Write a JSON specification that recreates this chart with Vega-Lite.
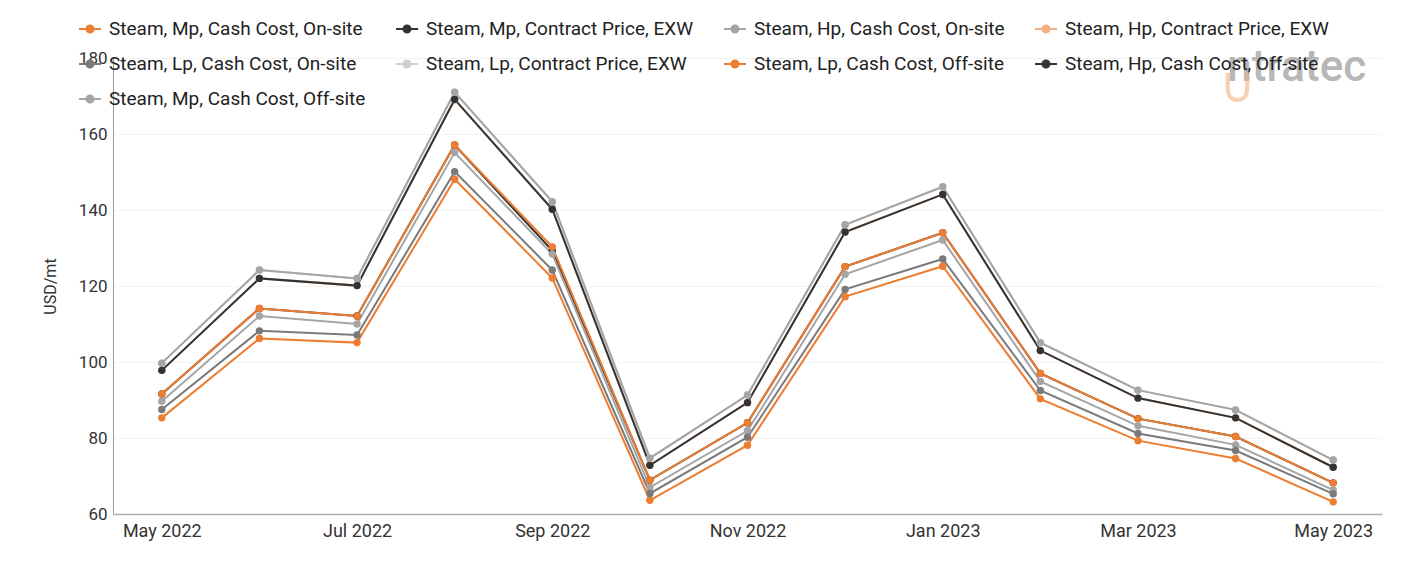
{
  "$schema": "https://vega.github.io/schema/vega-lite/v6.json",
  "width": 1269,
  "height": 456,
  "autosize": {"type": "none"},
  "padding": {"left": 113, "top": 58, "right": 19, "bottom": 47},
  "background": "#ffffff",
  "config": {
    "font": "Roboto",
    "view": {"stroke": null},
    "axis": {"labelFont": "Roboto", "titleFont": "Roboto", "labelColor": "#333333", "titleColor": "#333333"}
  },
  "data": {
    "values": [
      {"month": "May 2022", "series": "Steam, Mp, Cash Cost, On-site", "usd": 85.3},
      {"month": "Jun 2022", "series": "Steam, Mp, Cash Cost, On-site", "usd": 106.2},
      {"month": "Jul 2022", "series": "Steam, Mp, Cash Cost, On-site", "usd": 105.1},
      {"month": "Aug 2022", "series": "Steam, Mp, Cash Cost, On-site", "usd": 148.1},
      {"month": "Sep 2022", "series": "Steam, Mp, Cash Cost, On-site", "usd": 122.1},
      {"month": "Oct 2022", "series": "Steam, Mp, Cash Cost, On-site", "usd": 63.6},
      {"month": "Nov 2022", "series": "Steam, Mp, Cash Cost, On-site", "usd": 78.1},
      {"month": "Dec 2022", "series": "Steam, Mp, Cash Cost, On-site", "usd": 117.2},
      {"month": "Jan 2023", "series": "Steam, Mp, Cash Cost, On-site", "usd": 125.2},
      {"month": "Feb 2023", "series": "Steam, Mp, Cash Cost, On-site", "usd": 90.3},
      {"month": "Mar 2023", "series": "Steam, Mp, Cash Cost, On-site", "usd": 79.3},
      {"month": "Apr 2023", "series": "Steam, Mp, Cash Cost, On-site", "usd": 74.6},
      {"month": "May 2023", "series": "Steam, Mp, Cash Cost, On-site", "usd": 63.2},

      {"month": "May 2022", "series": "Steam, Mp, Contract Price, EXW", "usd": 91.6},
      {"month": "Jun 2022", "series": "Steam, Mp, Contract Price, EXW", "usd": 114.1},
      {"month": "Jul 2022", "series": "Steam, Mp, Contract Price, EXW", "usd": 112.1},
      {"month": "Aug 2022", "series": "Steam, Mp, Contract Price, EXW", "usd": 157.1},
      {"month": "Sep 2022", "series": "Steam, Mp, Contract Price, EXW", "usd": 129.3},
      {"month": "Oct 2022", "series": "Steam, Mp, Contract Price, EXW", "usd": 68.9},
      {"month": "Nov 2022", "series": "Steam, Mp, Contract Price, EXW", "usd": 84.0},
      {"month": "Dec 2022", "series": "Steam, Mp, Contract Price, EXW", "usd": 125.1},
      {"month": "Jan 2023", "series": "Steam, Mp, Contract Price, EXW", "usd": 134.0},
      {"month": "Feb 2023", "series": "Steam, Mp, Contract Price, EXW", "usd": 97.0},
      {"month": "Mar 2023", "series": "Steam, Mp, Contract Price, EXW", "usd": 85.1},
      {"month": "Apr 2023", "series": "Steam, Mp, Contract Price, EXW", "usd": 80.4},
      {"month": "May 2023", "series": "Steam, Mp, Contract Price, EXW", "usd": 68.2},

      {"month": "May 2022", "series": "Steam, Hp, Cash Cost, On-site", "usd": 89.7},
      {"month": "Jun 2022", "series": "Steam, Hp, Cash Cost, On-site", "usd": 112.1},
      {"month": "Jul 2022", "series": "Steam, Hp, Cash Cost, On-site", "usd": 110.0},
      {"month": "Aug 2022", "series": "Steam, Hp, Cash Cost, On-site", "usd": 155.1},
      {"month": "Sep 2022", "series": "Steam, Hp, Cash Cost, On-site", "usd": 128.4},
      {"month": "Oct 2022", "series": "Steam, Hp, Cash Cost, On-site", "usd": 67.0},
      {"month": "Nov 2022", "series": "Steam, Hp, Cash Cost, On-site", "usd": 81.9},
      {"month": "Dec 2022", "series": "Steam, Hp, Cash Cost, On-site", "usd": 123.1},
      {"month": "Jan 2023", "series": "Steam, Hp, Cash Cost, On-site", "usd": 132.1},
      {"month": "Feb 2023", "series": "Steam, Hp, Cash Cost, On-site", "usd": 94.9},
      {"month": "Mar 2023", "series": "Steam, Hp, Cash Cost, On-site", "usd": 83.2},
      {"month": "Apr 2023", "series": "Steam, Hp, Cash Cost, On-site", "usd": 78.2},
      {"month": "May 2023", "series": "Steam, Hp, Cash Cost, On-site", "usd": 66.3},

      {"month": "May 2022", "series": "Steam, Hp, Contract Price, EXW", "usd": 97.8},
      {"month": "Jun 2022", "series": "Steam, Hp, Contract Price, EXW", "usd": 122.0},
      {"month": "Jul 2022", "series": "Steam, Hp, Contract Price, EXW", "usd": 120.1},
      {"month": "Aug 2022", "series": "Steam, Hp, Contract Price, EXW", "usd": 169.1},
      {"month": "Sep 2022", "series": "Steam, Hp, Contract Price, EXW", "usd": 140.2},
      {"month": "Oct 2022", "series": "Steam, Hp, Contract Price, EXW", "usd": 72.8},
      {"month": "Nov 2022", "series": "Steam, Hp, Contract Price, EXW", "usd": 89.3},
      {"month": "Dec 2022", "series": "Steam, Hp, Contract Price, EXW", "usd": 134.2},
      {"month": "Jan 2023", "series": "Steam, Hp, Contract Price, EXW", "usd": 144.1},
      {"month": "Feb 2023", "series": "Steam, Hp, Contract Price, EXW", "usd": 103.0},
      {"month": "Mar 2023", "series": "Steam, Hp, Contract Price, EXW", "usd": 90.5},
      {"month": "Apr 2023", "series": "Steam, Hp, Contract Price, EXW", "usd": 85.3},
      {"month": "May 2023", "series": "Steam, Hp, Contract Price, EXW", "usd": 72.3},

      {"month": "May 2022", "series": "Steam, Lp, Cash Cost, On-site", "usd": 87.5},
      {"month": "Jun 2022", "series": "Steam, Lp, Cash Cost, On-site", "usd": 108.2},
      {"month": "Jul 2022", "series": "Steam, Lp, Cash Cost, On-site", "usd": 107.1},
      {"month": "Aug 2022", "series": "Steam, Lp, Cash Cost, On-site", "usd": 150.1},
      {"month": "Sep 2022", "series": "Steam, Lp, Cash Cost, On-site", "usd": 124.2},
      {"month": "Oct 2022", "series": "Steam, Lp, Cash Cost, On-site", "usd": 65.4},
      {"month": "Nov 2022", "series": "Steam, Lp, Cash Cost, On-site", "usd": 80.2},
      {"month": "Dec 2022", "series": "Steam, Lp, Cash Cost, On-site", "usd": 119.1},
      {"month": "Jan 2023", "series": "Steam, Lp, Cash Cost, On-site", "usd": 127.1},
      {"month": "Feb 2023", "series": "Steam, Lp, Cash Cost, On-site", "usd": 92.5},
      {"month": "Mar 2023", "series": "Steam, Lp, Cash Cost, On-site", "usd": 81.2},
      {"month": "Apr 2023", "series": "Steam, Lp, Cash Cost, On-site", "usd": 76.7},
      {"month": "May 2023", "series": "Steam, Lp, Cash Cost, On-site", "usd": 65.3},

      {"month": "May 2022", "series": "Steam, Lp, Contract Price, EXW", "usd": 99.7},
      {"month": "Jun 2022", "series": "Steam, Lp, Contract Price, EXW", "usd": 124.2},
      {"month": "Jul 2022", "series": "Steam, Lp, Contract Price, EXW", "usd": 122.0},
      {"month": "Aug 2022", "series": "Steam, Lp, Contract Price, EXW", "usd": 171.0},
      {"month": "Sep 2022", "series": "Steam, Lp, Contract Price, EXW", "usd": 142.2},
      {"month": "Oct 2022", "series": "Steam, Lp, Contract Price, EXW", "usd": 74.7},
      {"month": "Nov 2022", "series": "Steam, Lp, Contract Price, EXW", "usd": 91.3},
      {"month": "Dec 2022", "series": "Steam, Lp, Contract Price, EXW", "usd": 136.1},
      {"month": "Jan 2023", "series": "Steam, Lp, Contract Price, EXW", "usd": 146.1},
      {"month": "Feb 2023", "series": "Steam, Lp, Contract Price, EXW", "usd": 105.1},
      {"month": "Mar 2023", "series": "Steam, Lp, Contract Price, EXW", "usd": 92.6},
      {"month": "Apr 2023", "series": "Steam, Lp, Contract Price, EXW", "usd": 87.4},
      {"month": "May 2023", "series": "Steam, Lp, Contract Price, EXW", "usd": 74.2},

      {"month": "May 2022", "series": "Steam, Lp, Cash Cost, Off-site", "usd": 91.6},
      {"month": "Jun 2022", "series": "Steam, Lp, Cash Cost, Off-site", "usd": 114.1},
      {"month": "Jul 2022", "series": "Steam, Lp, Cash Cost, Off-site", "usd": 112.1},
      {"month": "Aug 2022", "series": "Steam, Lp, Cash Cost, Off-site", "usd": 157.1},
      {"month": "Sep 2022", "series": "Steam, Lp, Cash Cost, Off-site", "usd": 130.3},
      {"month": "Oct 2022", "series": "Steam, Lp, Cash Cost, Off-site", "usd": 68.9},
      {"month": "Nov 2022", "series": "Steam, Lp, Cash Cost, Off-site", "usd": 84.0},
      {"month": "Dec 2022", "series": "Steam, Lp, Cash Cost, Off-site", "usd": 125.1},
      {"month": "Jan 2023", "series": "Steam, Lp, Cash Cost, Off-site", "usd": 134.0},
      {"month": "Feb 2023", "series": "Steam, Lp, Cash Cost, Off-site", "usd": 97.0},
      {"month": "Mar 2023", "series": "Steam, Lp, Cash Cost, Off-site", "usd": 85.1},
      {"month": "Apr 2023", "series": "Steam, Lp, Cash Cost, Off-site", "usd": 80.4},
      {"month": "May 2023", "series": "Steam, Lp, Cash Cost, Off-site", "usd": 68.2},

      {"month": "May 2022", "series": "Steam, Hp, Cash Cost, Off-site", "usd": 97.8},
      {"month": "Jun 2022", "series": "Steam, Hp, Cash Cost, Off-site", "usd": 122.0},
      {"month": "Jul 2022", "series": "Steam, Hp, Cash Cost, Off-site", "usd": 120.1},
      {"month": "Aug 2022", "series": "Steam, Hp, Cash Cost, Off-site", "usd": 169.1},
      {"month": "Sep 2022", "series": "Steam, Hp, Cash Cost, Off-site", "usd": 140.2},
      {"month": "Oct 2022", "series": "Steam, Hp, Cash Cost, Off-site", "usd": 72.8},
      {"month": "Nov 2022", "series": "Steam, Hp, Cash Cost, Off-site", "usd": 89.3},
      {"month": "Dec 2022", "series": "Steam, Hp, Cash Cost, Off-site", "usd": 134.2},
      {"month": "Jan 2023", "series": "Steam, Hp, Cash Cost, Off-site", "usd": 144.1},
      {"month": "Feb 2023", "series": "Steam, Hp, Cash Cost, Off-site", "usd": 103.0},
      {"month": "Mar 2023", "series": "Steam, Hp, Cash Cost, Off-site", "usd": 90.5},
      {"month": "Apr 2023", "series": "Steam, Hp, Cash Cost, Off-site", "usd": 85.3},
      {"month": "May 2023", "series": "Steam, Hp, Cash Cost, Off-site", "usd": 72.3},

      {"month": "May 2022", "series": "Steam, Mp, Cash Cost, Off-site", "usd": 99.7},
      {"month": "Jun 2022", "series": "Steam, Mp, Cash Cost, Off-site", "usd": 124.2},
      {"month": "Jul 2022", "series": "Steam, Mp, Cash Cost, Off-site", "usd": 122.0},
      {"month": "Aug 2022", "series": "Steam, Mp, Cash Cost, Off-site", "usd": 171.0},
      {"month": "Sep 2022", "series": "Steam, Mp, Cash Cost, Off-site", "usd": 142.2},
      {"month": "Oct 2022", "series": "Steam, Mp, Cash Cost, Off-site", "usd": 74.7},
      {"month": "Nov 2022", "series": "Steam, Mp, Cash Cost, Off-site", "usd": 91.3},
      {"month": "Dec 2022", "series": "Steam, Mp, Cash Cost, Off-site", "usd": 136.1},
      {"month": "Jan 2023", "series": "Steam, Mp, Cash Cost, Off-site", "usd": 146.1},
      {"month": "Feb 2023", "series": "Steam, Mp, Cash Cost, Off-site", "usd": 105.1},
      {"month": "Mar 2023", "series": "Steam, Mp, Cash Cost, Off-site", "usd": 92.6},
      {"month": "Apr 2023", "series": "Steam, Mp, Cash Cost, Off-site", "usd": 87.4},
      {"month": "May 2023", "series": "Steam, Mp, Cash Cost, Off-site", "usd": 74.2}
    ]
  },
  "encoding": {
    "x": {
      "field": "month",
      "type": "ordinal",
      "scale": {
        "type": "point",
        "padding": 0.5,
        "domain": ["May 2022", "Jun 2022", "Jul 2022", "Aug 2022", "Sep 2022", "Oct 2022", "Nov 2022", "Dec 2022", "Jan 2023", "Feb 2023", "Mar 2023", "Apr 2023", "May 2023"]
      },
      "axis": {
        "title": null,
        "values": ["May 2022", "Jul 2022", "Sep 2022", "Nov 2022", "Jan 2023", "Mar 2023", "May 2023"],
        "labelAngle": 0,
        "labelFontSize": 18,
        "labelPadding": 8,
        "ticks": false,
        "grid": false,
        "domainColor": "#b0b0b0",
        "domainWidth": 1.5
      }
    },
    "y": {
      "field": "usd",
      "type": "quantitative",
      "scale": {"domain": [60, 180], "nice": false, "zero": false},
      "axis": {
        "title": "USD/mt",
        "titleFontSize": 16,
        "titleFontWeight": "normal",
        "titlePadding": 20,
        "values": [60, 80, 100, 120, 140, 160, 180],
        "labelFontSize": 17,
        "labelPadding": 6,
        "ticks": false,
        "gridColor": "#f3f3f3",
        "domainColor": "#9a9a9a",
        "domainWidth": 1
      }
    },
    "color": {
      "field": "series",
      "type": "nominal",
      "scale": {
        "domain": [
          "Steam, Mp, Cash Cost, On-site",
          "Steam, Mp, Contract Price, EXW",
          "Steam, Hp, Cash Cost, On-site",
          "Steam, Hp, Contract Price, EXW",
          "Steam, Lp, Cash Cost, On-site",
          "Steam, Lp, Contract Price, EXW",
          "Steam, Lp, Cash Cost, Off-site",
          "Steam, Hp, Cash Cost, Off-site",
          "Steam, Mp, Cash Cost, Off-site"
        ],
        "range": ["#ED7D31", "#333333", "#A5A5A5", "#F4B183", "#7A7A7A", "#D0D0D0", "#ED7D31", "#333333", "#A5A5A5"]
      },
      "legend": {
        "title": null,
        "orient": "none",
        "legendX": -35,
        "legendY": -41,
        "direction": "horizontal",
        "columns": 4,
        "columnPadding": 26,
        "rowPadding": 13,
        "labelFontSize": 19,
        "labelFont": "Roboto",
        "labelColor": "#222222",
        "labelOffset": 7,
        "labelLimit": 400,
        "symbolType": "M-1,0H1M-0.32,0A0.32,0.32 0 1,0 0.32,0A0.32,0.32 0 1,0 -0.32,0",
        "symbolSize": 484,
        "symbolStrokeWidth": 2,
        "encode": {
          "symbols": {
            "update": {
              "fill": {"scale": "color", "field": "value"},
              "stroke": {"scale": "color", "field": "value"},
              "opacity": {"value": 1}
            }
          }
        }
      }
    }
  },
  "layer": [
    {
      "mark": {"type": "line", "strokeWidth": 2, "point": {"filled": true, "size": 55, "opacity": 1}}
    },
    {
      "data": {"values": [{"brand": "ntratec", "month": "May 2023", "usd": 177.3}]},
      "mark": {"type": "text", "align": "right", "baseline": "middle", "dx": 33, "fontSize": 44, "fontWeight": 500, "font": "Roboto", "opacity": 0.7},
      "encoding": {
        "x": {"field": "month", "type": "ordinal"},
        "y": {"field": "usd", "type": "quantitative"},
        "text": {"field": "brand"},
        "color": {"value": "#9a9a9a"}
      }
    },
    {
      "data": {"values": [{"glyph": "∪", "month": "May 2023", "usd": 172.4}]},
      "mark": {"type": "text", "align": "center", "baseline": "middle", "dx": -96, "fontSize": 50, "font": "DejaVu Sans", "opacity": 0.6},
      "encoding": {
        "x": {"field": "month", "type": "ordinal"},
        "y": {"field": "usd", "type": "quantitative"},
        "text": {"field": "glyph"},
        "color": {"value": "#F4B183"}
      }
    }
  ]
}
